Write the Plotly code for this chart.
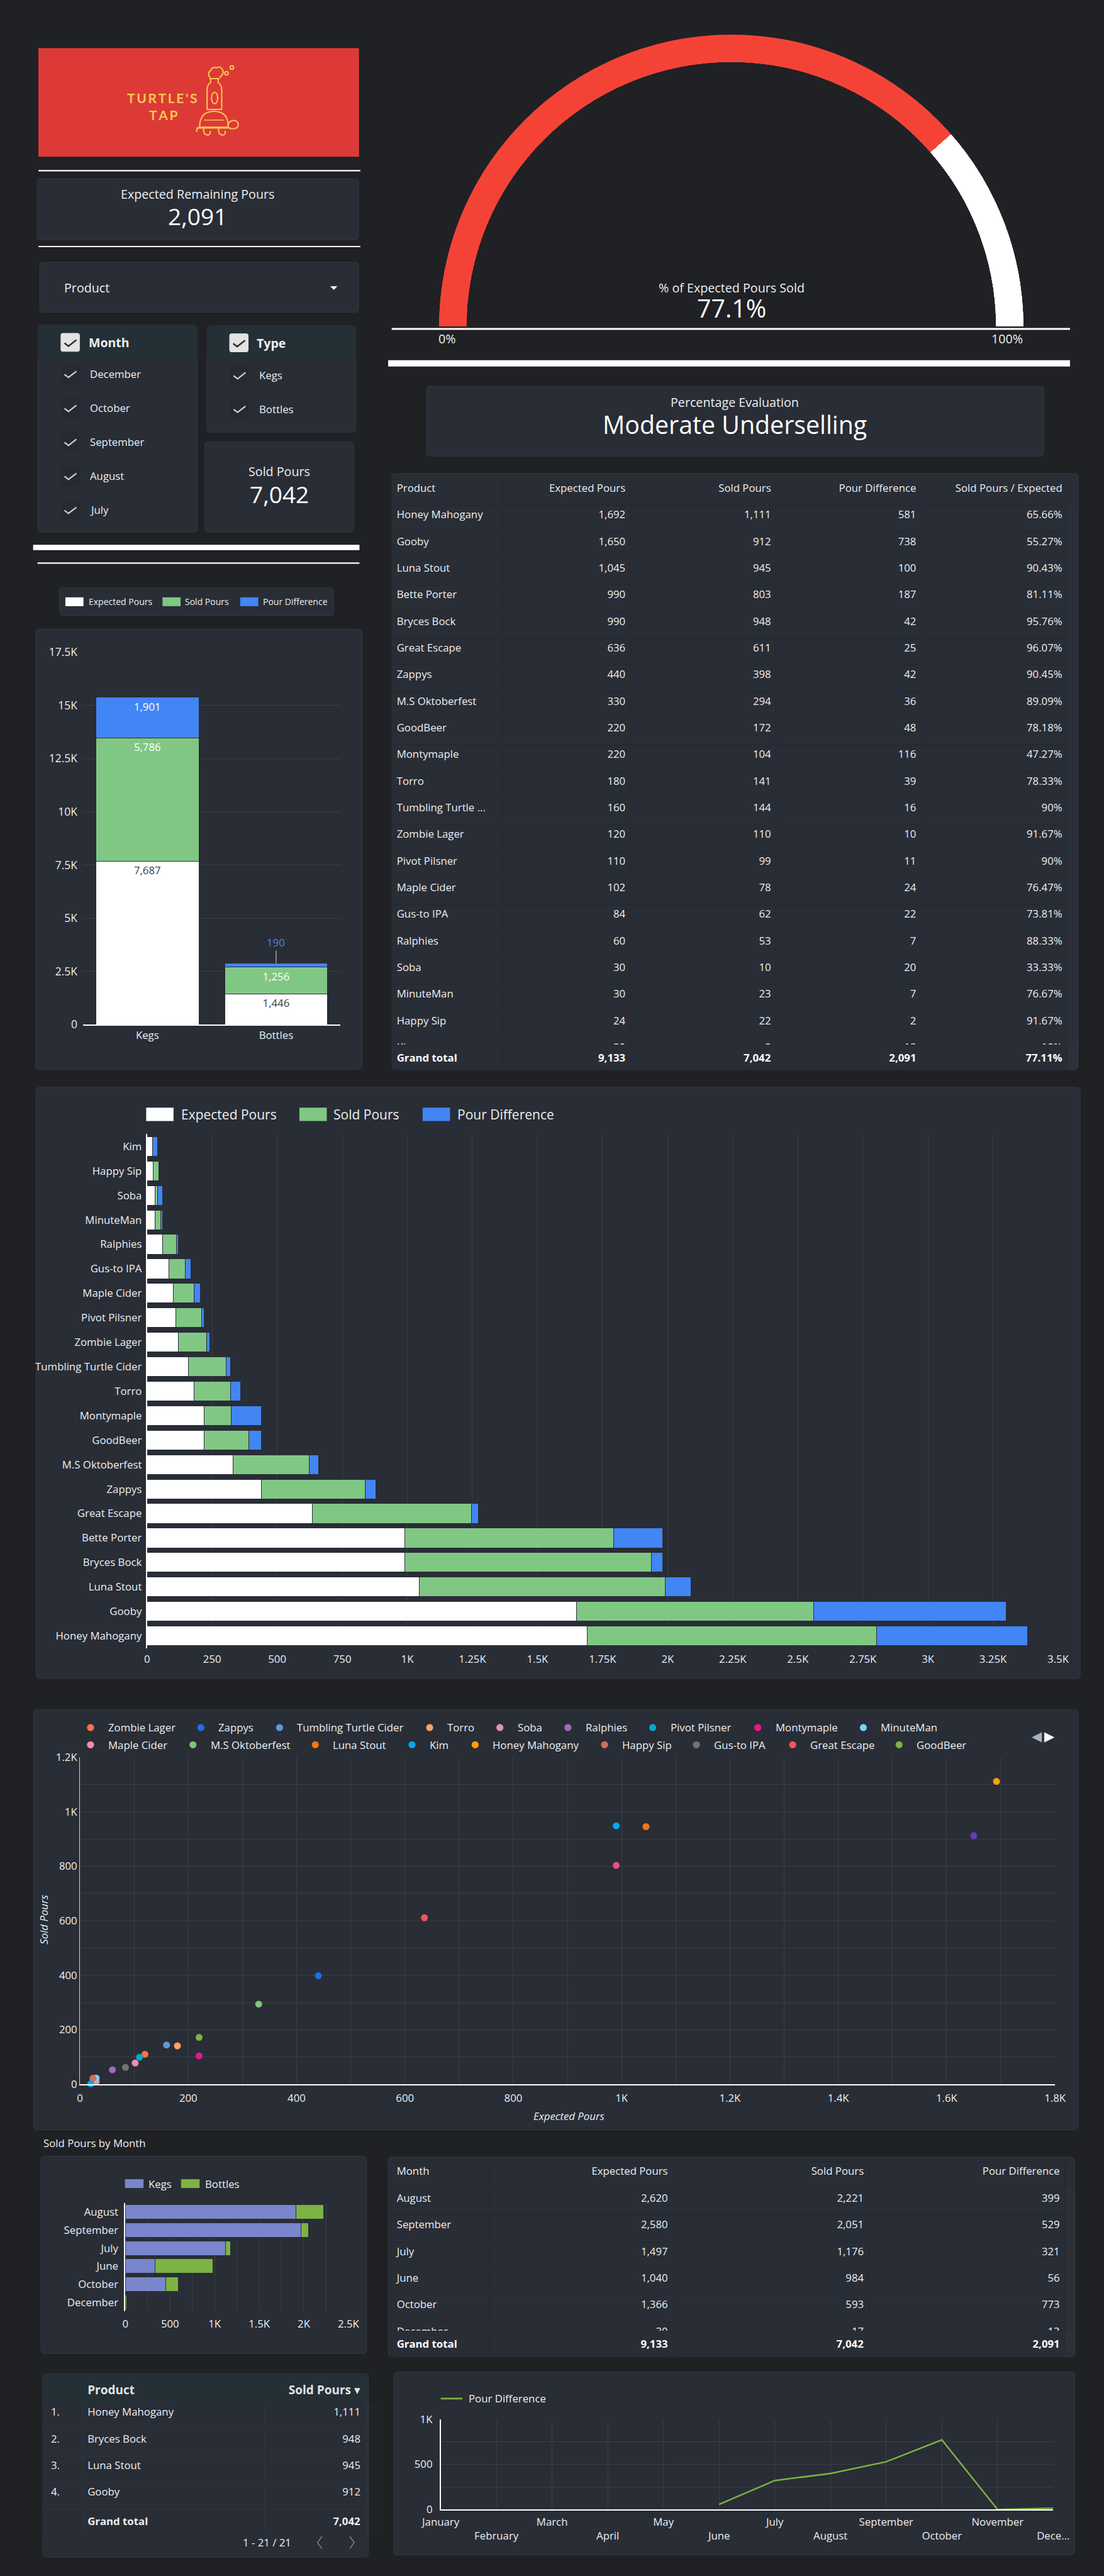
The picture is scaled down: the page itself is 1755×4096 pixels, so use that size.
import plotly.graph_objects as go

# ---------------- DATA ----------------
products = ["Honey Mahogany", "Gooby", "Luna Stout", "Bette Porter", "Bryces Bock",
            "Great Escape", "Zappys", "M.S Oktoberfest", "GoodBeer", "Montymaple",
            "Torro", "Tumbling Turtle Cider", "Zombie Lager", "Pivot Pilsner",
            "Maple Cider", "Gus-to IPA", "Ralphies", "Soba", "MinuteMan", "Happy Sip", "Kim"]
expected_pours = [1692, 1650, 1045, 990, 990, 636, 440, 330, 220, 220, 180, 160, 120,
                  110, 102, 84, 60, 30, 30, 24, 20]
sold_pours = [1111, 912, 945, 803, 948, 611, 398, 294, 172, 104, 141, 144, 110,
              99, 78, 62, 53, 10, 23, 22, 2]
pour_difference = [581, 738, 100, 187, 42, 25, 42, 36, 48, 116, 39, 16, 10,
                   11, 24, 22, 7, 20, 7, 2, 18]
sold_over_expected = [65.66, 55.27, 90.43, 81.11, 95.76, 96.07, 90.45, 89.09, 78.18, 47.27,
                      78.33, 90, 91.67, 90, 76.47, 73.81, 88.33, 33.33, 76.67, 91.67, 10]
# bottom-to-top order of the horizontal product chart
hbar_category_order = ["Honey Mahogany", "Gooby", "Luna Stout", "Bryces Bock", "Bette Porter",
                       "Great Escape", "Zappys", "M.S Oktoberfest", "GoodBeer", "Montymaple",
                       "Torro", "Tumbling Turtle Cider", "Zombie Lager", "Pivot Pilsner",
                       "Maple Cider", "Gus-to IPA", "Ralphies", "MinuteMan", "Soba",
                       "Happy Sip", "Kim"]

total_expected = 9133
total_sold = 7042
total_difference = 2091
total_ratio = 77.11
pct_expected_sold = 77.1
evaluation_text = "Moderate Underselling"

type_names = ["Kegs", "Bottles"]
type_expected = [7687, 1446]
type_sold = [5786, 1256]
type_difference = [1901, 190]

month_rows = ["August", "September", "July", "June", "October", "December"]
month_expected = [2620, 2580, 1497, 1040, 1366, 30]
month_sold = [2221, 2051, 1176, 984, 593, 17]
month_difference = [399, 529, 321, 56, 773, 13]
month_kegs = [1910, 1970, 1120, 331, 455, 0]
month_bottles = [311, 81, 56, 653, 138, 17]

calendar_months = ["January", "February", "March", "April", "May", "June", "July",
                   "August", "September", "October", "November", "December"]
calendar_difference = [None, None, None, None, None, 56, 321, 399, 529, 773, 0, 13]
calendar_tick_labels = ["January", "<br>February", "March", "<br>April", "May", "<br>June",
                        "July", "<br>August", "September", "<br>October", "November", "<br>Dece..."]

filter_months = ["December", "October", "September", "August", "July"]
filter_types = ["Kegs", "Bottles"]

top_products = ["Honey Mahogany", "Bryces Bock", "Luna Stout", "Gooby"]
top_sold = [1111, 948, 945, 912]
product_count = 21

scatter_legend_rows = [
    ["Zombie Lager", "Zappys", "Tumbling Turtle Cider", "Torro", "Soba", "Ralphies",
     "Pivot Pilsner", "Montymaple", "MinuteMan"],
    ["Maple Cider", "M.S Oktoberfest", "Luna Stout", "Kim", "Honey Mahogany", "Happy Sip",
     "Gus-to IPA", "Great Escape", "GoodBeer"],
]
product_colors = {
    "Zombie Lager": "#ff7043", "Zappys": "#1e6fe0", "Tumbling Turtle Cider": "#5e97d8",
    "Torro": "#ffa165", "Soba": "#e98fb3", "Ralphies": "#9a6fb5", "Pivot Pilsner": "#00acc8",
    "Montymaple": "#e8168c", "MinuteMan": "#7fcdf5", "Maple Cider": "#f08db3",
    "M.S Oktoberfest": "#7dc579", "Luna Stout": "#f57514", "Kim": "#08a6f0",
    "Honey Mahogany": "#ffa000", "Happy Sip": "#cf705e", "Gus-to IPA": "#737373",
    "Great Escape": "#f2555a", "GoodBeer": "#7cb342", "Gooby": "#673ab7",
    "Bryces Bock": "#03a9f4", "Bette Porter": "#e84c8a",
}

stack_y_ticks = [0, 2500, 5000, 7500, 10000, 12500, 15000, 17500]
stack_y_labels = ["0", "2.5K", "5K", "7.5K", "10K", "12.5K", "15K", "17.5K"]
hbar_x_ticks = [0, 250, 500, 750, 1000, 1250, 1500, 1750, 2000, 2250, 2500, 2750, 3000, 3250, 3500]
hbar_x_labels = ["0", "250", "500", "750", "1K", "1.25K", "1.5K", "1.75K", "2K", "2.25K",
                 "2.5K", "2.75K", "3K", "3.25K", "3.5K"]
scatter_x_ticks = [0, 200, 400, 600, 800, 1000, 1200, 1400, 1600, 1800]
scatter_x_labels = ["0", "200", "400", "600", "800", "1K", "1.2K", "1.4K", "1.6K", "1.8K"]
scatter_y_ticks = [0, 200, 400, 600, 800, 1000, 1200]
scatter_y_labels = ["0", "200", "400", "600", "800", "1K", "1.2K"]
month_x_ticks = [0, 500, 1000, 1500, 2000, 2500]
month_x_labels = ["0", "500", "1K", "1.5K", "2K", "2.5K"]
line_y_ticks = [0, 500, 1000]
line_y_labels = ["0", "500", "1K"]

# ---------------- STYLE ----------------
FONT = "Open Sans, Noto Sans, DejaVu Sans, sans-serif"
BG = "#202125"
CARD = "#292d36"
BORDER = "#363a43"
HEADBAND = "#252f36"
GRID = "#3a3e47"
TLINE = "#23272e"
WHITE = "#ffffff"
TXT = "#eceff1"
RED = "#f44336"
GREEN = "#81c784"
BLUE = "#4285f4"
KEGS_C = "#7986cb"
BOTTLES_C = "#7cb342"
GOLD = "#f8c852"
LOGO_RED = "#dd3a37"

W, H, S = 1755, 4096, 0.702
F12 = 16.8
F14 = 19.7
F28 = 39.3


def X(r):
    return r * S / W


def Y(r):
    return 1 - r * S / H


def dx(a, b):
    return [X(a), X(b)]


def dy(top, bottom):
    return [Y(bottom), Y(top)]


shapes, annotations = [], []


def path_str(cmds):
    parts = []
    for c in cmds:
        op, pts = c[0], c[1:]
        coords = " ".join(f"{X(pts[i]):.5f},{Y(pts[i + 1]):.5f}" for i in range(0, len(pts), 2))
        parts.append(op + coords)
    return " ".join(parts)


def path_shape(cmds, color=None, fill=None, width=2, layer="above"):
    shapes.append(dict(type="path", xref="paper", yref="paper", path=path_str(cmds),
                       fillcolor=fill if fill else "rgba(0,0,0,0)",
                       line=dict(color=color if color else "rgba(0,0,0,0)", width=width),
                       layer=layer))


def rrect(x0, y0, x1, y1, fill, line=BORDER, r=8, lw=1, layer="below"):
    cmds = [("M", x0 + r, y0), ("L", x1 - r, y0), ("Q", x1, y0, x1, y0 + r), ("L", x1, y1 - r),
            ("Q", x1, y1, x1 - r, y1), ("L", x0 + r, y1), ("Q", x0, y1, x0, y1 - r),
            ("L", x0, y0 + r), ("Q", x0, y0, x0 + r, y0), ("Z",)]
    path_shape(cmds, color=line if line else fill, fill=fill, width=lw, layer=layer)


def rect(x0, y0, x1, y1, fill, layer="above"):
    shapes.append(dict(type="rect", xref="paper", yref="paper", x0=X(x0), x1=X(x1),
                       y0=Y(y1), y1=Y(y0), fillcolor=fill, line=dict(width=0), layer=layer))


def circle(cx, cy, rx, ry, color, fill=None, width=2):
    shapes.append(dict(type="circle", xref="paper", yref="paper", x0=X(cx - rx), x1=X(cx + rx),
                       y0=Y(cy + ry), y1=Y(cy - ry),
                       fillcolor=fill if fill else "rgba(0,0,0,0)",
                       line=dict(color=color, width=width), layer="above"))


def label(xr, yr, s, size, color=TXT, anchor="center", angle=0, family=FONT):
    annotations.append(dict(x=X(xr), y=Y(yr), xref="paper", yref="paper", text=s,
                            showarrow=False, xanchor=anchor, yanchor="middle", textangle=angle,
                            font=dict(family=family, size=size, color=color)))


def check(cx, cy, color, width=2.2):
    path_shape([("M", cx - 13, cy + 1), ("L", cx - 4, cy + 8), ("L", cx + 14, cy - 6)],
               color=color, width=width)


fmt = lambda v: f"{v:,}"

fig = go.Figure()

# ---------------- LOGO ----------------
rect(87, 109, 813, 355, LOGO_RED, layer="below")
ts = "\u2009"
label(368, 222, "<b>" + ts.join("TURTLE'S") + "</b>", 21, GOLD, family="Lato, Open Sans, sans-serif")
label(369, 260, "<b>" + ts.join("TAP") + "</b>", 21, GOLD, family="Lato, Open Sans, sans-serif")
# bottle
path_shape([("M", 477, 178), ("L", 477, 187), ("Q", 469, 192, 469, 203), ("L", 469, 248),
            ("L", 502, 248), ("L", 502, 203), ("Q", 502, 192, 494, 187), ("L", 494, 178)],
           color=GOLD, width=2)
path_shape([("M", 474, 178), ("L", 497, 178)], color=GOLD, width=2)
circle(486, 222, 7, 13, GOLD)
path_shape([("M", 476, 176), ("Q", 468, 166, 477, 160), ("Q", 480, 150, 490, 154),
            ("Q", 499, 148, 503, 157), ("Q", 510, 165, 497, 176)], color=GOLD, width=2)
circle(513, 166, 4, 4, GOLD)
circle(525, 153, 4, 4, GOLD)
# turtle
path_shape([("M", 452, 288), ("Q", 452, 252, 485, 252), ("Q", 517, 252, 517, 288), ("Z",)],
           color=GOLD, width=2)
path_shape([("M", 462, 272), ("L", 507, 272)], color=GOLD, width=1.5)
path_shape([("M", 445, 290), ("L", 522, 290)], color=GOLD, width=2)
path_shape([("M", 515, 284), ("Q", 521, 271, 532, 273), ("Q", 543, 277, 538, 288),
            ("Q", 532, 293, 520, 291)], color=GOLD, width=2)
path_shape([("M", 461, 291), ("Q", 460, 306, 471, 306), ("Q", 477, 305, 476, 296)], color=GOLD, width=2)
path_shape([("M", 495, 291), ("Q", 494, 306, 505, 306), ("Q", 511, 305, 510, 296)], color=GOLD, width=2)
path_shape([("M", 452, 288), ("Q", 443, 292, 446, 299)], color=GOLD, width=2)

# ---------------- LEFT KPI COLUMN ----------------
rect(87, 385, 816, 388, WHITE)
rrect(84, 405, 812, 543, CARD)
label(448, 440, "Expected Remaining Pours", F14)
label(448, 489, fmt(total_difference), 37, WHITE)
rect(87, 557, 816, 560, WHITE)

rrect(90, 594, 812, 707, CARD)
label(143, 652, "Product", F14, anchor="left")
path_shape([("M", 749, 649), ("L", 763, 649), ("L", 756, 656), ("Z",)], color=TXT, fill=TXT, width=1)

# Month filter
rrect(86, 736, 446, 1205, CARD)
rrect(86, 736, 446, 812, HEADBAND, line=None)
rect(87, 800, 445, 812, HEADBAND, layer="below")
rrect(138, 755, 180, 796, "#e3e3e3", line=None, r=4, layer="above")
check(159, 776, "#2a2e35", 2.5)
label(198, 775, "<b>Month</b>", 19.5, anchor="left")
for i, m in enumerate(filter_months):
    yy = 847 + i * 77
    rrect(139, yy - 21, 179, yy + 21, "#262a31", line=None, r=4, layer="below")
    check(159, yy, "#d0d3d6")
    label(201, yy, m, F12, anchor="left")

# Type filter
rrect(469, 738, 805, 979, CARD)
rrect(469, 738, 805, 812, HEADBAND, line=None)
rect(470, 800, 804, 812, HEADBAND, layer="below")
rrect(520, 756, 562, 797, "#e3e3e3", line=None, r=4, layer="above")
check(541, 777, "#2a2e35", 2.5)
label(579, 777, "<b>Type</b>", 19.5, anchor="left")
for i, t in enumerate(filter_types):
    yy = 850 + i * 76
    rrect(522, yy - 21, 562, yy + 21, "#262a31", line=None, r=4, layer="below")
    check(542, yy, "#d0d3d6")
    label(584, yy, t, F12, anchor="left")

# Sold pours KPI
rrect(464, 1001, 801, 1205, CARD)
label(633, 1068, "Sold Pours", F14)
label(633, 1119, fmt(total_sold), 37, WHITE)
rect(75, 1234, 814, 1246, WHITE)
rect(85, 1274, 814, 1277, WHITE)

# ---------------- GAUGE ----------------
red_deg = pct_expected_sold / 100 * 180
fig.add_trace(go.Barpolar(
    r=[1, 1], theta=[180 - red_deg / 2, (180 - red_deg) / 2], width=[red_deg, 180 - red_deg],
    marker=dict(color=[RED, WHITE], line=dict(width=0)), subplot="polar", hoverinfo="skip"))
rect(887, 743, 2423, 747, WHITE)
label(1013, 767, "0%", F14)
label(2281, 767, "100%", F14)
label(1656, 651, "% of Expected Pours Sold", F14)
label(1656, 698, f"{pct_expected_sold}%", F28, WHITE)
rect(879, 816, 2423, 830, WHITE)

rrect(966, 875, 2363, 1033, CARD)
label(1664, 911, "Percentage Evaluation", F14)
label(1664, 961, evaluation_text, F28, WHITE)

# ---------------- PRODUCT TABLE ----------------
rrect(887, 1073, 2441, 2423, CARD)
product_labels = [p if len(p) <= 16 else p[:16] + "..." for p in products]
prod_cols = [250, 291, 330, 329, 331]
fig.add_trace(go.Table(
    domain=dict(x=dx(887, 2418), y=dy(1084, 2420)),
    columnwidth=prod_cols,
    header=dict(values=["Product", "Expected Pours", "Sold Pours", "Pour Difference",
                        "Sold Pours / Expected"],
                align=["left", "right", "right", "right", "right"], height=61 * S,
                fill_color=CARD, line=dict(color=TLINE, width=1),
                font=dict(family=FONT, size=F12, color=TXT)),
    cells=dict(values=[product_labels, [fmt(v) for v in expected_pours],
                       [fmt(v) for v in sold_pours], [fmt(v) for v in pour_difference],
                       [f"{v:g}%" for v in sold_over_expected]],
               align=["left", "right", "right", "right", "right"], height=60.3 * S,
               fill_color=CARD, line=dict(color=TLINE, width=1),
               font=dict(family=FONT, size=F12, color=TXT))))
fig.add_trace(go.Table(
    domain=dict(x=dx(887, 2418), y=dy(2367, 2423)),
    columnwidth=prod_cols,
    header=dict(values=["<b>Grand total</b>", f"<b>{fmt(total_expected)}</b>",
                        f"<b>{fmt(total_sold)}</b>", f"<b>{fmt(total_difference)}</b>",
                        f"<b>{total_ratio}%</b>"],
                align=["left", "right", "right", "right", "right"], height=56 * S,
                fill_color=CARD, line=dict(color=TLINE, width=1),
                font=dict(family=FONT, size=F12, color=WHITE)),
    cells=dict(values=[[], [], [], [], []])))

# ---------------- TYPE STACKED BAR ----------------
rrect(135, 1331, 755, 1394, CARD)
for sx, tx, col, nm in [(148, 198, WHITE, "Expected Pours"), (368, 416, GREEN, "Sold Pours"),
                        (544, 593, BLUE, "Pour Difference")]:
    rect(sx, 1353, sx + 41, 1373, col)
    label(tx, 1363, nm, 14, anchor="left")
rrect(81, 1425, 820, 2422, CARD)

fig.add_trace(go.Bar(x=type_names, y=type_expected, marker=dict(color=WHITE, line=dict(color=CARD, width=1)),
                     texttemplate="%{y:,}", textposition="inside", insidetextanchor="end",
                     textfont=dict(color="#3c4043", size=F12, family=FONT),
                     xaxis="x", yaxis="y", hoverinfo="skip"))
fig.add_trace(go.Bar(x=type_names, y=type_sold, marker=dict(color=GREEN, line=dict(color=CARD, width=1)),
                     texttemplate="%{y:,}", textposition="inside", insidetextanchor="end",
                     textfont=dict(color=WHITE, size=F12, family=FONT),
                     xaxis="x", yaxis="y", hoverinfo="skip"))
fig.add_trace(go.Bar(x=type_names, y=type_difference, marker=dict(color=BLUE, line=dict(color=CARD, width=1)),
                     texttemplate="%{y:,}", textposition=["inside", "none"], insidetextanchor="end",
                     textfont=dict(color=WHITE, size=F12, family=FONT),
                     xaxis="x", yaxis="y", hoverinfo="skip"))
annotations.append(dict(x=type_names[1], y=type_expected[1] + type_sold[1] + type_difference[1],
                        xref="x", yref="y", text=fmt(type_difference[1]), showarrow=True,
                        arrowhead=0, arrowcolor="#9aa0a6", arrowwidth=1.5, ax=0, ay=-33,
                        font=dict(family=FONT, size=F12, color=BLUE)))

# ---------------- HORIZONTAL PRODUCT BAR ----------------
rrect(82, 2463, 2446, 3802, CARD)
for sx, tx, col, nm in [(331, 408, WHITE, "Expected Pours"), (678, 752, GREEN, "Sold Pours"),
                        (957, 1033, BLUE, "Pour Difference")]:
    rect(sx, 2509, sx + 62, 2539, col)
    label(tx, 2524, nm, 21, anchor="left")
for vals, col in [(expected_pours, WHITE), (sold_pours, GREEN), (pour_difference, BLUE)]:
    fig.add_trace(go.Bar(y=products, x=vals, orientation="h",
                         marker=dict(color=col, line=dict(color=CARD, width=1)),
                         xaxis="x2", yaxis="y2", hoverinfo="skip"))

# ---------------- SCATTER ----------------
rrect(76, 3873, 2441, 4824, CARD)
legend_x = [[205, 455, 633, 973, 1132, 1286, 1478, 1716, 1955],
            [205, 437, 714, 933, 1076, 1369, 1577, 1795, 2036]]
for row, (names, xs) in enumerate(zip(scatter_legend_rows, legend_x)):
    yy = 3913 + row * 39
    for nm, xx in zip(names, xs):
        circle(xx, yy, 8, 8, product_colors[nm], fill=product_colors[nm], width=0)
        label(xx + 37, yy, nm, F12, anchor="left")
label(2349, 3933, "\u25c0", 21, "#aeb1b5", family="DejaVu Sans")
label(2377, 3933, "\u25b6", 21, WHITE, family="DejaVu Sans")
fig.add_trace(go.Scatter(x=expected_pours, y=sold_pours, mode="markers",
                         marker=dict(color=[product_colors[p] for p in products], size=11,
                                     line=dict(width=0)),
                         xaxis="x3", yaxis="y3", hoverinfo="skip", cliponaxis=False))
label(1289, 4793, "<i>Expected Pours</i>", F12)
label(99, 4348, "<i>Sold Pours</i>", F12, angle=-90)

# ---------------- MONTH BAR ----------------
label(96, 4854, "Sold Pours by Month", F12, anchor="left")
rrect(93, 4884, 830, 5331, CARD)
for sx, tx, col, nm in [(283, 333, KEGS_C, "Kegs"), (410, 461, BOTTLES_C, "Bottles")]:
    rect(sx, 4936, sx + 42, 4956, col)
    label(tx, 4946, nm, F12, anchor="left")
fig.add_trace(go.Bar(y=month_rows, x=month_kegs, orientation="h",
                     marker=dict(color=KEGS_C, line=dict(color=CARD, width=1)),
                     xaxis="x4", yaxis="y4", hoverinfo="skip"))
fig.add_trace(go.Bar(y=month_rows, x=month_bottles, orientation="h",
                     marker=dict(color=BOTTLES_C, line=dict(color=CARD, width=1)),
                     xaxis="x4", yaxis="y4", hoverinfo="skip"))

# ---------------- MONTH TABLE ----------------
rrect(880, 4886, 2434, 5338, CARD)
fig.add_trace(go.Table(
    domain=dict(x=dx(887, 2412), y=dy(4897, 5323)),
    columnwidth=[220, 417, 444, 444],
    header=dict(values=["Month", "Expected Pours", "Sold Pours", "Pour Difference"],
                align=["left", "right", "right", "right"], height=61 * S,
                fill_color=CARD, line=dict(color=TLINE, width=1),
                font=dict(family=FONT, size=F12, color=TXT)),
    cells=dict(values=[month_rows, [fmt(v) for v in month_expected],
                       [fmt(v) for v in month_sold], [fmt(v) for v in month_difference]],
               align=["left", "right", "right", "right"], height=60.3 * S,
               fill_color=CARD, line=dict(color=TLINE, width=1),
               font=dict(family=FONT, size=F12, color=TXT))))
fig.add_trace(go.Table(
    domain=dict(x=dx(887, 2412), y=dy(5280, 5338)),
    columnwidth=[220, 417, 444, 444],
    header=dict(values=["<b>Grand total</b>", f"<b>{fmt(total_expected)}</b>",
                        f"<b>{fmt(total_sold)}</b>", f"<b>{fmt(total_difference)}</b>"],
                align=["left", "right", "right", "right"], height=57 * S,
                fill_color=CARD, line=dict(color=TLINE, width=1),
                font=dict(family=FONT, size=F12, color=WHITE)),
    cells=dict(values=[[], [], [], []])))

# ---------------- TOP PRODUCTS TABLE ----------------
rrect(97, 5377, 834, 5792, CARD)
rect(98, 5378, 833, 5383, HEADBAND, layer="below")
fig.add_trace(go.Table(
    domain=dict(x=dx(104, 829), y=dy(5383, 5743)),
    columnwidth=[83, 413, 229],
    header=dict(values=["", "<b>Product</b>", "<b>Sold Pours</b> \u25be"],
                align=["left", "left", "right"], height=56 * S,
                fill_color=HEADBAND, line=dict(color=HEADBAND, width=1),
                font=dict(family=FONT, size=19, color="#dfe3e6")),
    cells=dict(values=[[f"{i + 1}." for i in range(len(top_products))] + [""],
                       top_products + ["<b>Grand total</b>"],
                       [fmt(v) for v in top_sold] + [f"<b>{fmt(total_sold)}</b>"]],
               align=["left", "left", "right"], height=60 * S,
               fill_color=CARD, line=dict(color="#30343c", width=1),
               font=dict(family=FONT, size=F12, color=TXT))))
label(604, 5759, f"1 - {product_count} / {product_count}", F12)
path_shape([("M", 729, 5745), ("L", 719, 5759), ("L", 729, 5773)], color="#80868b", width=1.5)
path_shape([("M", 792, 5745), ("L", 802, 5759), ("L", 792, 5773)], color="#80868b", width=1.5)

# ---------------- LINE CHART ----------------
rrect(892, 5373, 2434, 5787, CARD)
rect(998, 5431, 1047, 5435, BOTTLES_C)
label(1059, 5433, "Pour Difference", F12, anchor="left")
fig.add_trace(go.Scatter(x=calendar_months, y=calendar_difference, mode="lines",
                         line=dict(color=BOTTLES_C, width=2.5), connectgaps=False,
                         xaxis="x5", yaxis="y5", hoverinfo="skip", cliponaxis=False))

# ---------------- LAYOUT ----------------
tick_font = dict(family=FONT, size=F12, color=TXT)


def ax(**kw):
    d = dict(showgrid=True, gridcolor=GRID, gridwidth=1, zeroline=False, showline=False,
             ticks="", tickfont=tick_font, fixedrange=True, automargin=False)
    d.update(kw)
    return d


fig.update_layout(
    width=W, height=H, autosize=False, margin=dict(l=0, r=0, t=0, b=0, pad=0, autoexpand=False),
    paper_bgcolor=BG, plot_bgcolor="rgba(0,0,0,0)", showlegend=False,
    barmode="stack", bargap=0.2, hovermode=False,
    font=dict(family=FONT, color=TXT),
    polar=dict(domain=dict(x=dx(994, 2318), y=dy(78, 740)), sector=[0, 180], hole=0.905,
               bgcolor="rgba(0,0,0,0)",
               radialaxis=dict(visible=False, range=[0, 1]),
               angularaxis=dict(visible=False, rotation=0, direction="counterclockwise")),
    xaxis=ax(domain=dx(188, 771), anchor="y", showgrid=False, showline=True, linecolor=WHITE,
             linewidth=2, type="category"),
    yaxis=ax(domain=dy(1477, 2321), anchor="x", range=[0, 17500], tickvals=stack_y_ticks,
             ticktext=stack_y_labels, tickfont=dict(family=FONT, size=17.5, color=TXT),
             ticklabelstandoff=8),
    xaxis2=ax(domain=dx(333, 2396), anchor="y2", range=[0, 3500], tickvals=hbar_x_ticks,
              ticktext=hbar_x_labels, ticklabelstandoff=6),
    yaxis2=ax(domain=dy(2569, 3733), anchor="x2", showgrid=False, showline=True,
              linecolor=WHITE, linewidth=2, type="category", categoryorder="array",
              categoryarray=hbar_category_order, ticklabelstandoff=3),
    xaxis3=ax(domain=dx(181, 2389), anchor="y3", range=[0, 1800], tickvals=scatter_x_ticks,
              ticktext=scatter_x_labels, showline=True, linecolor=WHITE, linewidth=2,
              minor=dict(tickmode="linear", tick0=0, dtick=100, showgrid=True, gridcolor=GRID),
              ticklabelstandoff=6),
    yaxis3=ax(domain=dy(3980, 4721), anchor="x3", range=[0, 1200], tickvals=scatter_y_ticks,
              ticktext=scatter_y_labels, showline=True, linecolor="#d0d0d0", linewidth=1,
              minor=dict(tickmode="linear", tick0=0, dtick=100, showgrid=True, gridcolor=GRID)),
    xaxis4=ax(domain=dx(284, 789), anchor="y4", range=[0, 2500], tickvals=month_x_ticks,
              ticktext=month_x_labels, ticklabelstandoff=8,
              minor=dict(tickmode="linear", tick0=0, dtick=250, showgrid=True, gridcolor=GRID)),
    yaxis4=ax(domain=dy(4990, 5235), anchor="x4", showgrid=False, showline=True,
              linecolor=WHITE, linewidth=2, type="category", autorange="reversed",
              ticklabelstandoff=6),
    xaxis5=ax(domain=dx(998, 2385), anchor="y5", type="category", range=[0, 11],
              tickvals=calendar_months, ticktext=calendar_tick_labels, showline=True,
              linecolor=WHITE, linewidth=2, ticklabelstandoff=4),
    yaxis5=ax(domain=dy(5480, 5684), anchor="x5", range=[0, 1000], tickvals=line_y_ticks,
              ticktext=line_y_labels, showline=True, linecolor=WHITE, linewidth=1.5,
              ticklabelstandoff=8,
              minor=dict(tickmode="linear", tick0=0, dtick=250, showgrid=True, gridcolor=GRID)),
    shapes=shapes, annotations=annotations,
)

fig.write_html("out.html", config={"displayModeBar": False})
